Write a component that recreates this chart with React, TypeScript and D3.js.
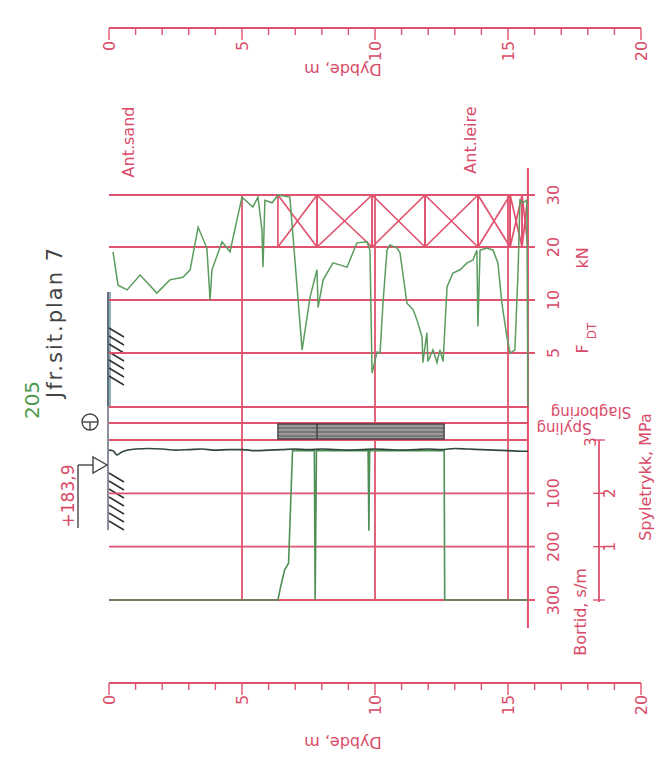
import * as d3 from 'd3';

// sounding 205 – total sounding log, drawn turned a quarter turn
const endDepth = 15.75;
const depthLabels = [0, 5, 10, 15, 20];
const depthGrid = [5, 10, 15];

const fTicks = [5, 10, 20, 30];
const bortidTicks = [100, 200, 300];
const spyleTicks = [1, 2, 3];

// [depth m, F_DT kN]
const fdtCurve: [number, number][] = [
  [0.15, 19.1], [0.34, 12.8], [0.68, 11.9], [1.17, 14.7], [1.8, 11.3], [2.29, 13.8],
  [2.78, 14.3], [3.05, 15.7], [3.35, 23.8], [3.68, 19.8], [3.8, 10.0], [3.87, 15.7],
  [4.25, 21.0], [4.55, 19.1], [4.81, 25.2], [5.0, 29.6], [5.41, 27.7], [5.6, 29.6],
  [5.75, 23.3], [5.79, 16.2], [5.86, 29.0], [6.13, 28.5], [6.35, 30], [6.8, 29.6],
  [7.26, 5.3], [7.56, 10.6], [7.82, 15.7], [7.86, 9.3], [8.05, 13.8], [8.42, 17.0],
  [8.95, 16.2], [9.32, 20.8], [9.7, 21.0], [9.81, 19.4], [9.89, 3.1], [10.08, 5.1],
  [10.19, 5.0], [10.3, 9.7], [10.45, 19.4], [10.56, 20.4], [10.83, 19.8], [10.94, 18.9],
  [11.2, 9.7], [11.43, 9.1], [11.58, 8.1], [11.77, 6.5], [11.8, 4.1], [11.95, 6.9],
  [11.99, 4.2], [12.18, 5.3], [12.33, 4.1], [12.44, 5.3], [12.56, 4.2], [12.71, 12.5],
  [12.93, 15.1], [13.2, 15.7], [13.46, 17.0], [13.68, 17.5], [13.83, 19.4], [13.87, 7.5],
  [13.95, 19.4], [14.21, 19.8], [14.44, 19.4], [14.62, 17.0], [14.77, 9.7], [14.96, 6.5],
  [15.08, 5.0], [15.26, 5.3], [15.38, 15.7], [15.45, 29.0], [15.56, 28.5], [15.71, 29.0],
  [15.75, 0],
];

// [depth m, bortid s/m]
const bortidCurve: [number, number][] = [
  [0, 19], [0.15, 20], [0.3, 28], [0.5, 22], [1.0, 17], [1.5, 16], [2.0, 17], [2.5, 19],
  [3.0, 18], [3.5, 17], [4.0, 19], [4.5, 18], [5.0, 18], [5.5, 20], [6.0, 19], [6.5, 18],
  [7.0, 17], [7.5, 18], [8.0, 17], [8.5, 18], [9.0, 19], [9.5, 18], [10.0, 17], [10.5, 18],
  [11.0, 19], [11.5, 18], [12.0, 17], [12.5, 18], [13.0, 16], [13.5, 17], [14.0, 18],
  [14.5, 19], [15.0, 20], [15.5, 21], [15.75, 21],
];

// [depth m, spyletrykk MPa]
const spyleCurve: [number, number][] = [
  [0, 0], [6.35, 0], [6.45, 0.24], [6.6, 0.56], [6.75, 0.69], [6.9, 2.8], [7.72, 2.8],
  [7.75, 0], [7.8, 2.8], [9.74, 2.8], [9.77, 1.3], [9.8, 2.8], [12.6, 2.8], [12.62, 0],
  [15.75, 0],
];

// depth intervals with crossed boxes in the F_DT column
const crossBoxes: [number, number][] = [
  [6.35, 7.82], [7.82, 9.89], [9.89, 11.88], [11.88, 13.87], [13.87, 15.08], [15.08, 15.53],
  [15.53, 15.75],
];
const spylingBands: [number, number][] = [[6.35, 12.6]];

const RED = '#e0536f';
const TXT = '#d94b68';
const FONT = 'DejaVu Sans, sans-serif';
const LW = 1.8;

function RotText({ x, y, angle = -90, size = 15, fill = TXT, font = FONT, spacing = 0, children }: any) {
  return (
    <text
      transform={`translate(${x},${y}) rotate(${angle})`}
      textAnchor="middle"
      dominantBaseline="central"
      fontSize={size}
      fontFamily={font}
      letterSpacing={spacing}
      fill={fill}
    >
      {children}
    </text>
  );
}

export default function App() {
  const x = d3.scaleLinear().domain([0, 20]).range([109, 641]);
  const yF = d3.scaleLinear().domain([0, 5, 10, 20, 30]).range([406, 353, 300, 247, 195]);
  const yB = d3.scaleLinear().domain([0, 300]).range([440, 600]);
  const yS = d3.scaleLinear().domain([0, 3]).range([600, 440]);

  const x0 = x(0);
  const xEnd = x(endDepth);

  const fLine = d3.line<[number, number]>().x((d) => x(d[0])).y((d) => yF(d[1]));
  const bLine = d3.line<[number, number]>().x((d) => x(d[0])).y((d) => yB(d[1])).curve(d3.curveMonotoneX);
  const sLine = d3.line<[number, number]>().x((d) => x(d[0])).y((d) => yS(d[1]));

  const bandYs = [yF(0) + 1, 423, yB(0)];
  const minor = d3.range(0, 21);

  const axis = (yAxis: number, labelY: number, titleY: number) => (
    <g>
      <line x1={x(0)} x2={x(20)} y1={yAxis} y2={yAxis} stroke={RED} strokeWidth={LW} />
      {minor.map((t) => (
        <line
          key={t}
          x1={x(t)}
          x2={x(t)}
          y1={yAxis}
          y2={yAxis + (t % 5 === 0 ? 12 : 7)}
          stroke={RED}
          strokeWidth={1.4}
        />
      ))}
      {depthLabels.map((t) => (
        <RotText key={t} x={x(t)} y={labelY + (t >= 10 ? 5 : 0)} size={16}>
          {t}
        </RotText>
      ))}
      <RotText x={343} y={titleY} angle={180} size={16}>
        Dybde, m
      </RotText>
    </g>
  );

  const hatch = (yTop: number, n: number) =>
    d3.range(n).map((i) => (
      <line
        key={i}
        x1={x0}
        y1={yTop + i * 8}
        x2={x0 + 15}
        y2={yTop + i * 8 + 9}
        stroke="#333"
        strokeWidth={1.5}
      />
    ));

  return (
    <svg
      width={660}
      height={765}
      style={{ position: 'absolute', left: 0, top: 0, background: '#fff' }}
    >
      {axis(28, 46, 69)}
      {axis(683, 700, 742)}

      {/* header */}
      <RotText x={32} y={400} size={20} fill="#4c9a4c">205</RotText>
      <RotText x={55} y={322} size={21} fill="#444" spacing={2}>
        Jfr.sit.plan 7
      </RotText>
      <g stroke="#444" strokeWidth={1.4} fill="none">
        <circle cx={90} cy={422} r={8} />
        <line x1={82} x2={98} y1={422} y2={422} />
        <line x1={90} x2={90} y1={422} y2={430} />
        <polygon points="93,457 93,473 107,465" fill="#fff" />
        <line x1={78} x2={93} y1={465} y2={465} />
        <line x1={78} x2={78} y1={465} y2={528} />
      </g>
      <RotText x={68} y={496} size={17}>+183,9</RotText>

      <RotText x={128} y={142} size={16}>Ant.sand</RotText>
      <RotText x={470} y={140} size={16}>Ant.leire</RotText>

      {/* ground surface */}
      <rect x={x0 - 2} y={292} width={4} height={yF(0) - 292} fill="#8fb0b8" />
      <line x1={x0 - 1} x2={x0 - 1} y1={292} y2={530} stroke="#445" strokeWidth={1.2} />
      {hatch(328, 7)}
      {hatch(473, 7)}

      {/* F_DT grid */}
      {fTicks.map((t) => (
        <g key={t}>
          <line x1={x0} x2={xEnd + 7} y1={yF(t)} y2={yF(t)} stroke={RED} strokeWidth={LW} />
          <RotText x={553} y={yF(t)} size={16}>{t}</RotText>
        </g>
      ))}
      <RotText x={582} y={258} size={16}>kN</RotText>
      <RotText x={582} y={349} size={16}>F</RotText>
      <RotText x={592} y={331} size={12}>DT</RotText>

      {/* band lines */}
      {bandYs.map((b, i) => (
        <line key={i} x1={x0} x2={xEnd} y1={b} y2={b} stroke={RED} strokeWidth={LW} />
      ))}
      <RotText x={591} y={412} angle={180} size={15}>Slagboring</RotText>
      <RotText x={564} y={428} angle={180} size={15}>Spyling</RotText>

      {/* bortid grid */}
      {bortidTicks.map((t) => (
        <g key={t}>
          <line x1={x0} x2={xEnd + 7} y1={yB(t)} y2={yB(t)} stroke={RED} strokeWidth={LW} />
          <RotText x={553} y={yB(t)} size={16}>{t}</RotText>
        </g>
      ))}
      <RotText x={580} y={612} size={16}>Bortid, s/m</RotText>

      {/* spyletrykk axis */}
      <line x1={599} x2={599} y1={yS(3)} y2={yS(0) + 2} stroke={RED} strokeWidth={LW} />
      {[0, ...spyleTicks].map((t) => (
        <line key={t} x1={593} x2={605} y1={yS(t)} y2={yS(t)} stroke={RED} strokeWidth={1.4} />
      ))}
      {spyleTicks.map((t) => (
        <RotText key={t} x={t === 3 ? 591 : 610} y={yS(t) + (t === 3 ? 2 : 0)} size={15}>
          {t}
        </RotText>
      ))}
      <RotText x={645} y={477} size={16}>Spyletrykk, MPa</RotText>

      {/* vertical depth grid */}
      {depthGrid.map((d) => (
        <line key={d} x1={x(d)} x2={x(d)} y1={yF(30)} y2={yB(300)} stroke={RED} strokeWidth={LW} />
      ))}
      <line x1={xEnd} x2={xEnd} y1={168} y2={628} stroke={RED} strokeWidth={2} />

      {/* crossed boxes */}
      {crossBoxes.map(([a, b], i) => (
        <g key={i} stroke={RED} strokeWidth={1.7} fill="none">
          <rect x={x(a)} y={yF(30)} width={x(b) - x(a)} height={yF(20) - yF(30)} />
          <line x1={x(a)} y1={yF(30)} x2={x(b)} y2={yF(20)} />
          <line x1={x(a)} y1={yF(20)} x2={x(b)} y2={yF(30)} />
        </g>
      ))}

      {/* spyling bands */}
      {spylingBands.map(([a, b], i) => (
        <g key={i}>
          <rect x={x(a)} y={424} width={x(b) - x(a)} height={15} fill="#9a9a9a" stroke="#333" strokeWidth={1.2} />
          {[428, 432, 436].map((yy) => (
            <line key={yy} x1={x(a)} x2={x(b)} y1={yy} y2={yy} stroke="#444" strokeWidth={0.8} />
          ))}
          <line x1={x(7.82)} x2={x(7.82)} y1={424} y2={439} stroke="#333" strokeWidth={1.2} />
        </g>
      ))}

      {/* curves */}
      <path d={sLine(spyleCurve) ?? ''} fill="none" stroke="#4f8f56" strokeWidth={1.6} />
      <path d={bLine(bortidCurve) ?? ''} fill="none" stroke="#2f4a3c" strokeWidth={1.6} />
      <path d={fLine(fdtCurve) ?? ''} fill="none" stroke="#5a9c5e" strokeWidth={1.5} />
    </svg>
  );
}
